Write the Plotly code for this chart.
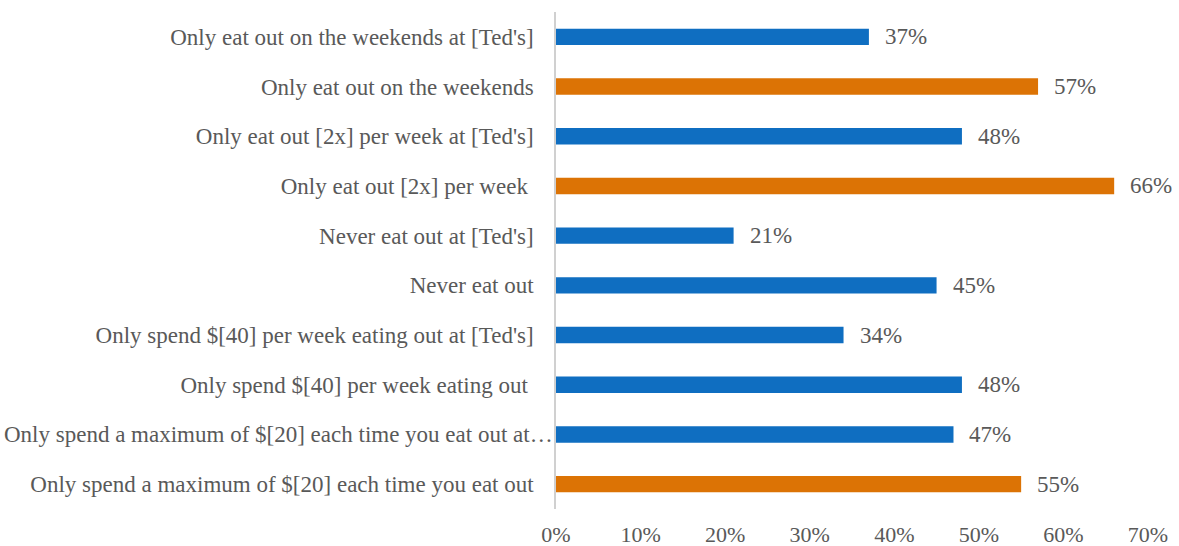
import plotly.graph_objects as go

categories = [
    "Only eat out on the weekends at [Ted's]",
    "Only eat out on the weekends",
    "Only eat out [2x] per week at [Ted's]",
    "Only eat out [2x] per week ",
    "Never eat out at [Ted's]",
    "Never eat out",
    "Only spend $[40] per week eating out at [Ted's]",
    "Only spend $[40] per week eating out ",
    "Only spend a maximum of $[20] each time you eat out at…",
    "Only spend a maximum of $[20] each time you eat out",
]
values = [37, 57, 48, 66, 21, 45, 34, 48, 47, 55]
highlight = [False, True, False, True, False, False, False, False, False, True]
# the truncated label runs right up to the axis line instead of the usual gap
runs_to_axis = [False, False, False, False, False, False, False, False, True, False]
x_ticks = [0, 10, 20, 30, 40, 50, 60, 70]
x_tick_labels = [f"{t}%" for t in x_ticks]

BLUE = "#0F6EC1"
ORANGE = "#DC7305"
TEXT = "#595959"
FONT = "Liberation Serif"
SIZE = 23

colors = [ORANGE if h else BLUE for h in highlight]

fig = go.Figure()
fig.add_trace(go.Bar(
    x=values,
    y=categories,
    orientation="h",
    marker=dict(color=colors, line=dict(width=0)),
    width=0.33,
    hoverinfo="skip",
))

for c, v in zip(categories, values):
    fig.add_annotation(
        x=v, y=c, text=f"{v}%", showarrow=False,
        xanchor="left", yanchor="middle", xshift=14,
        font=dict(family=FONT, size=SIZE, color=TEXT),
    )

tick_text = []
for c, full in zip(categories, runs_to_axis):
    if full:
        tick_text.append("")
        fig.add_annotation(
            x=0, y=c, text=c, showarrow=False,
            xanchor="right", yanchor="middle", xshift=-1,
            font=dict(family=FONT, size=SIZE, color=TEXT),
        )
    else:
        tick_text.append(c)

fig.update_layout(
    width=1179, height=546,
    margin=dict(l=556, r=31, t=12, b=37, autoexpand=False),
    paper_bgcolor="white", plot_bgcolor="white",
    showlegend=False,
    font=dict(family=FONT, size=SIZE, color=TEXT),
    bargap=0.67,
)
fig.update_xaxes(
    range=[0, 70], tickvals=x_ticks, ticktext=x_tick_labels,
    showgrid=False, zeroline=False, showline=False,
    ticks="", ticklabelstandoff=10, automargin=False,
    tickfont=dict(family=FONT, size=22, color=TEXT),
)
fig.update_yaxes(
    categoryorder="array", categoryarray=categories[::-1],
    tickvals=categories, ticktext=tick_text,
    showgrid=False, zeroline=False,
    showline=True, linecolor="#D0D0D0", linewidth=1.5,
    ticks="", ticklabelstandoff=16, automargin=False,
    tickfont=dict(family=FONT, size=SIZE, color=TEXT),
)

fig.write_html("out.html")
